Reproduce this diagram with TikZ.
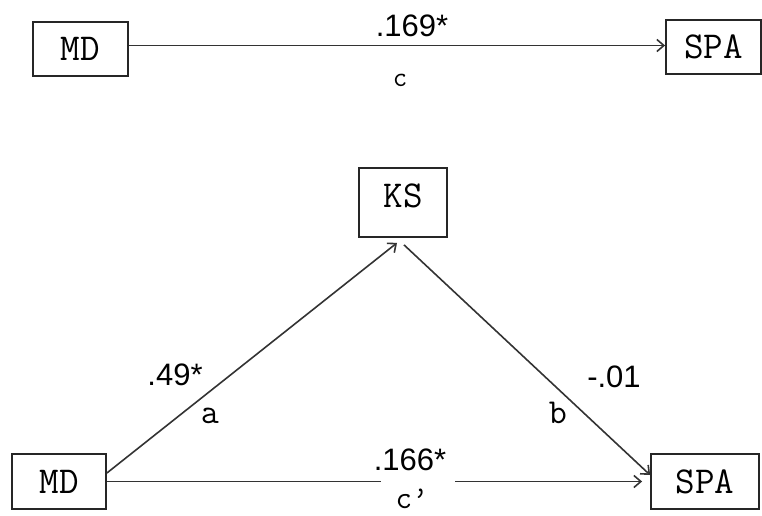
\documentclass[tikz,border=0pt]{standalone}
\usepackage{fontspec}
\newfontfamily\numfont{Liberation Sans}
\usetikzlibrary{arrows.meta}
\tikzset{
  box/.style={draw=black!85, line width=1.8pt, inner sep=0pt, font=\ttfamily\fontsize{38}{42}\selectfont},
  arr/.style={draw=black!80, line width=1.6pt, -{Straight Barb[length=7pt,width=12pt]}},
  plain/.style={draw=black!80, line width=1.6pt},
  num/.style={inner sep=0pt, anchor=base, font=\numfont\fontsize{31}{36}\selectfont},
  let/.style={inner sep=0pt, anchor=base, font=\ttfamily\fontsize{35}{40}\selectfont},
}
\begin{document}
\begin{tikzpicture}[x=1pt, y=-1pt]
\useasboundingbox (0,0) rectangle (762,516);
% top model
\node[box, minimum width=95pt, minimum height=54pt] (mdt) at (80.5,49) {MD};
\node[box, minimum width=95pt, minimum height=54pt] (spat) at (713.5,47) {SPA};
\draw[arr] ([yshift=3.5pt]mdt.east) -- ([yshift=1.5pt]spat.west);
\node[num] (l169) at (412,37) {.169*};
\node[let, font=\ttfamily\fontsize{28}{32}\selectfont] (lc) at (400,87) {c};
% bottom model
\node[box, minimum width=94pt, minimum height=55pt] (mdb) at (59,481.5) {MD};
\node[box, minimum width=108pt, minimum height=55pt] (spab) at (705,481.5) {SPA};
\node[box, minimum width=88pt, text height=39pt, text depth=30pt, anchor=base] (ks) at (403,207) {KS};
\coordinate (gapL) at (381,481.5);
\coordinate (gapR) at (455,481.5);
\draw[arr] ([yshift=8.5pt]mdb.east) -- ([xshift=-6pt,yshift=-5pt]ks.south);
\draw[arr] ([xshift=1pt,yshift=-7pt]ks.south) -- ([yshift=6.5pt]spab.west);
\draw[plain] (mdb.east) -- (gapL);
\draw[arr] (gapR) -- ([xshift=-8pt]spab.west);
\node[num] (l49) at (175,385) {.49*};
\node[let] (la) at (210,423) {a};
\node[num] (l01) at (614,387) {-.01};
\node[let] (lb) at (558,423) {b};
\node[num] (l166) at (410,470) {.166*};
\node[let, font=\ttfamily\fontsize{32}{36}\selectfont] (lcp) at (412,508) {c’};
\end{tikzpicture}
\end{document}
